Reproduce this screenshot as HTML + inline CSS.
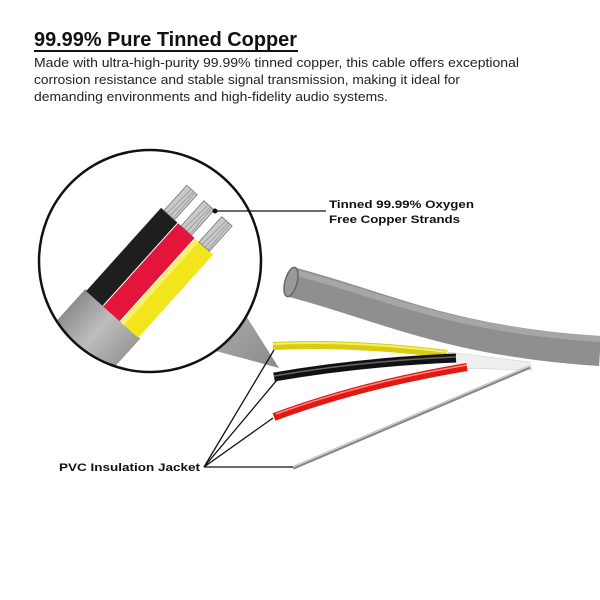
<!DOCTYPE html>
<html><head><meta charset="utf-8"><style>
html,body{margin:0;padding:0;background:#fff;}
svg{display:block;font-family:"Liberation Sans",sans-serif;}
</style></head><body>
<svg width="600" height="600" viewBox="0 0 600 600" xmlns="http://www.w3.org/2000/svg">
<defs>
<clipPath id="cc"><circle cx="150" cy="261" r="111"/></clipPath>
<linearGradient id="cone" x1="0" y1="0" x2="1" y2="1">
<stop offset="0" stop-color="#b0b0b0"/><stop offset="1" stop-color="#8a8a8a"/></linearGradient>
<linearGradient id="jk" x1="0" y1="0" x2="0" y2="1">
<stop offset="0" stop-color="#8d8d8d"/><stop offset="0.5" stop-color="#bdbdbd"/><stop offset="1" stop-color="#9a9a9a"/></linearGradient>
</defs>

<text x="34" y="46" font-size="20" font-weight="bold" fill="#111" textLength="263" lengthAdjust="spacingAndGlyphs">99.99% Pure Tinned Copper</text>
<rect x="34" y="50" width="264" height="2" fill="#111"/>
<text font-size="12.5" fill="#222">
<tspan x="34" y="67" textLength="485" lengthAdjust="spacingAndGlyphs">Made with ultra-high-purity 99.99% tinned copper, this cable offers exceptional</tspan>
<tspan x="34" y="84" textLength="426" lengthAdjust="spacingAndGlyphs">corrosion resistance and stable signal transmission, making it ideal for</tspan>
<tspan x="34" y="101" textLength="354" lengthAdjust="spacingAndGlyphs">demanding environments and high-fidelity audio systems.</tspan>
</text>

<!-- cone -->
<polygon points="236,300 279,368 212,350" fill="url(#cone)"/>

<!-- circle content -->
<circle cx="150" cy="261" r="111" fill="#fff"/>
<g clip-path="url(#cc)">
<g transform="translate(105,300) rotate(-48)">
<rect x="-200" y="-22" width="195" height="74" fill="url(#jk)"/>
<rect x="-6" y="-20" width="112" height="22" fill="#1e1e1e"/>
<rect x="-6" y="3" width="112" height="22" fill="#e3153a"/>
<rect x="-6" y="26" width="112" height="24" fill="#f2e51c"/>
<rect x="-6" y="26" width="112" height="5" fill="#f8ef6a"/>
<g fill="#c9c9c9" stroke="#777" stroke-width="0.8">
<rect x="106" y="-16" width="34" height="14"/>
<rect x="106" y="7" width="34" height="14"/>
<rect x="106" y="31" width="34" height="14"/>
</g>
<g stroke="#888" stroke-width="0.6">
<line x1="106" y1="-12" x2="140" y2="-10"/><line x1="106" y1="-8" x2="140" y2="-7"/><line x1="106" y1="-4" x2="140" y2="-5"/>
<line x1="106" y1="11" x2="140" y2="13"/><line x1="106" y1="15" x2="140" y2="16"/><line x1="106" y1="19" x2="140" y2="18"/>
<line x1="106" y1="35" x2="140" y2="37"/><line x1="106" y1="39" x2="140" y2="40"/><line x1="106" y1="43" x2="140" y2="42"/>
</g>
</g>
</g>
<circle cx="150" cy="261" r="111" fill="none" stroke="#111" stroke-width="2.5"/>

<!-- main cable -->
<path d="M291,282 C380,305 450,342 600,351" fill="none" stroke="#8f8f8f" stroke-width="30"/>
<path d="M293,272 C380,294 450,330 600,339" fill="none" stroke="#a6a6a6" stroke-width="6"/>
<ellipse cx="291" cy="282" rx="6" ry="15" transform="rotate(15 291 282)" fill="#9a9a9a" stroke="#666" stroke-width="1.5"/>

<!-- shield -->
<polygon points="448,352 530,362 532,370 455,368" fill="#eee" stroke="#ccc" stroke-width="0.5"/>
<!-- drain wire -->
<line x1="293" y1="468" x2="530" y2="367" stroke="#888" stroke-width="3.5"/>
<line x1="293" y1="467" x2="530" y2="366" stroke="#ddd" stroke-width="1"/>
<!-- wires -->
<path d="M273,346 Q350,342 447,354" fill="none" stroke="#d8cc10" stroke-width="8"/>
<path d="M273,344 Q350,340 447,352" fill="none" stroke="#f6ee6a" stroke-width="2"/>
<path d="M274,377 Q360,362 456,358" fill="none" stroke="#111" stroke-width="9"/>
<path d="M274,376 Q360,361 456,357" fill="none" stroke="#666" stroke-width="1.5"/>
<path d="M274,417 Q360,385 467,367" fill="none" stroke="#e01a10" stroke-width="8"/>
<path d="M276,414 Q360,383 467,365" fill="none" stroke="#f88" stroke-width="1.5"/>

<!-- leaders -->
<g stroke="#111" stroke-width="1.3" fill="none">
<line x1="204" y1="467" x2="274" y2="350"/>
<line x1="204" y1="467" x2="277" y2="380"/>
<line x1="204" y1="467" x2="273" y2="418"/>
<line x1="204" y1="467" x2="293" y2="467"/>
<line x1="215" y1="211" x2="326" y2="211"/>
</g>
<circle cx="215" cy="211" r="2.5" fill="#111"/>

<text font-size="11" font-weight="bold" fill="#111">
<tspan x="329" y="208" textLength="145" lengthAdjust="spacingAndGlyphs">Tinned 99.99% Oxygen</tspan>
<tspan x="329" y="223" textLength="131" lengthAdjust="spacingAndGlyphs">Free Copper Strands</tspan>
<tspan x="59" y="471" textLength="141" lengthAdjust="spacingAndGlyphs">PVC Insulation Jacket</tspan>
</text>
</svg>
</body></html>
